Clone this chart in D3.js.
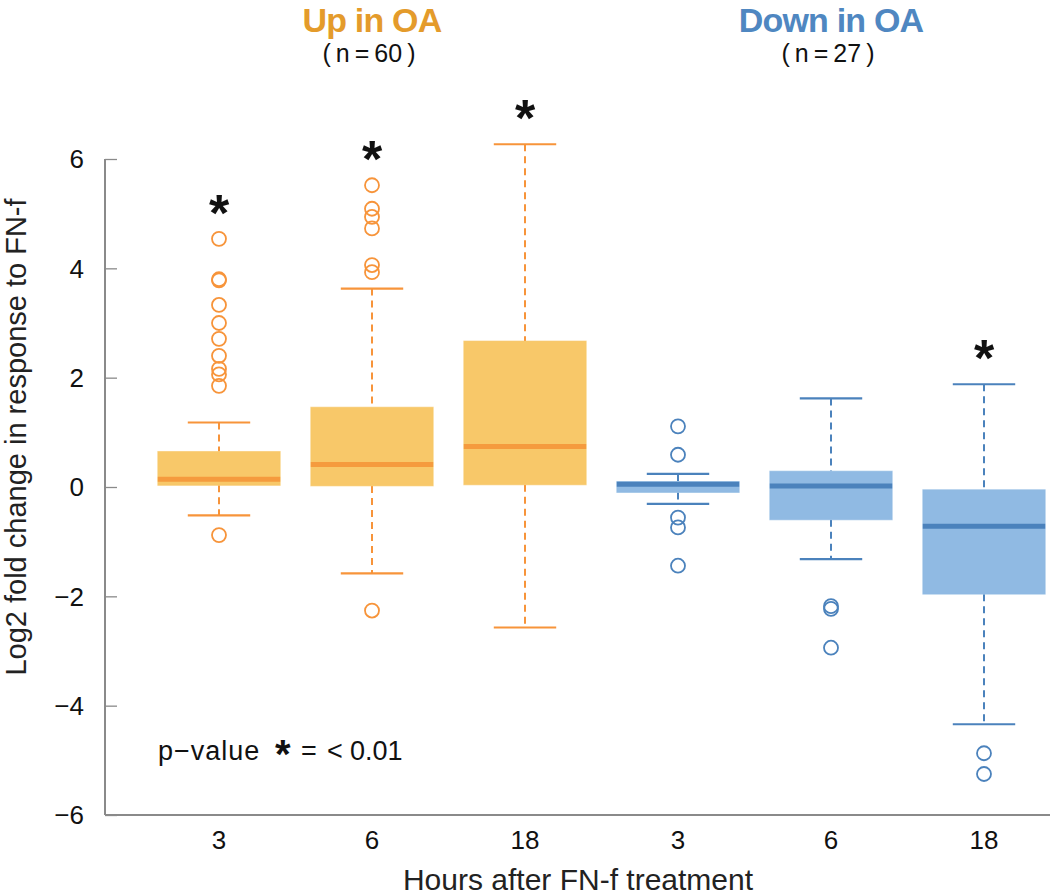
<!DOCTYPE html>
<html>
<head>
<meta charset="utf-8">
<script src="https://cdn.jsdelivr.net/npm/d3@7/dist/d3.min.js"></script>
<style>
  html, body { margin: 0; padding: 0; background: #fff; }
  svg { display: block; }
  text { font-family: "Liberation Sans", Arial, sans-serif; }
</style>
</head>
<body>
<svg id="chart" width="1050" height="896"></svg>
<script>
// ---- data ----
const groupNames = ["Up in OA", "Down in OA"];
const groupCounts = ["60", "27"];
const hours = ["3", "6", "18", "3", "6", "18"];
const boxGroup = [0, 0, 0, 1, 1, 1];
const q1 = [0.03, 0.02, 0.04, -0.10, -0.60, -1.96];
const median = [0.14, 0.41, 0.74, 0.05, 0.02, -0.72];
const q3 = [0.65, 1.46, 2.67, 0.10, 0.29, -0.05];
const whiskerLow = [-0.52, -1.58, -2.57, -0.31, -1.32, -4.34];
const whiskerHigh = [1.18, 3.63, 6.27, 0.24, 1.62, 1.88];
const outliers = [
  [4.54, 3.80, 3.78, 3.33, 3.00, 2.71, 2.40, 2.16, 2.06, 1.85, -0.88],
  [5.52, 5.09, 4.94, 4.73, 4.06, 3.93, -2.26],
  [],
  [1.11, 0.59, -0.56, -0.74, -1.44],
  [-2.18, -2.23, -2.94],
  [-4.87, -5.25]
];
const significant = [true, true, true, false, false, true];
const yTicks = [-6, -4, -2, 0, 2, 4, 6];

// ---- styles ----
const palette = [
  { title: "#E49B2B", fill: "#F8C869", median: "#F59B3E", line: "#F7943A" },
  { title: "#4F87C1", fill: "#90BAE3", median: "#4B82BC", line: "#4B82BC" }
];
const axisColor = "#8a8a8a";

const svg = d3.select("#chart");
const y = d3.scaleLinear().domain([-6, 6]).range([815, 159]);
const x = d3.scaleBand().domain(d3.range(hours.length)).range([142.5, 1060.5]).padding(0);
const boxW = x.bandwidth() * 0.8;
const capW = boxW * 0.51;
const cx = i => x(i) + x.bandwidth() / 2;

// y axis
const yAxis = d3.axisRight(y).tickValues(yTicks).tickSize(12).tickFormat("");
const gy = svg.append("g").attr("transform", "translate(105,0)").call(yAxis);
gy.select(".domain").attr("stroke", axisColor).attr("stroke-width", 2).attr("d", `M0,${y(6)}V${y(-6)}`);
gy.selectAll(".tick line").attr("stroke", axisColor).attr("stroke-width", 1.3);

svg.append("g").selectAll("text").data(yTicks).join("text")
  .attr("x", 84).attr("y", d => y(d)).attr("dy", "0.36em")
  .attr("text-anchor", "end").attr("font-size", 26).attr("fill", "#111")
  .text(d => d < 0 ? "\u2212" + Math.abs(d) : d);

// x axis line
svg.append("line").attr("x1", 105).attr("x2", 1050).attr("y1", y(-6)).attr("y2", y(-6))
  .attr("stroke", axisColor).attr("stroke-width", 2);

// x tick labels
svg.append("g").selectAll("text").data(hours).join("text")
  .attr("x", (d, i) => cx(i)).attr("y", 849)
  .attr("text-anchor", "middle").attr("font-size", 26).attr("fill", "#111")
  .text(d => d);

// axis titles
svg.append("text").attr("x", 578).attr("y", 890).attr("text-anchor", "middle")
  .attr("font-size", 30).attr("fill", "#222").text("Hours after FN-f treatment");
svg.append("text").attr("transform", `translate(26,437) rotate(-90)`)
  .attr("text-anchor", "middle").attr("font-size", 29).attr("fill", "#222")
  .text("Log2 fold change in response to FN-f");

// group titles
[1, 4].forEach((bi, gi) => {
  svg.append("text").attr("x", cx(bi)).attr("y", 32).attr("text-anchor", "middle")
    .attr("font-size", 34).attr("font-weight", "bold").attr("fill", palette[gi].title)
    .attr("letter-spacing", -0.8)
    .text(groupNames[gi]);
  svg.append("text").attr("x", cx(bi) - 3).attr("y", 62).attr("text-anchor", "middle")
    .attr("font-size", 25).attr("fill", "#111")
    .text("(\u2009n\u2009=\u2009" + groupCounts[gi] + "\u2009)");
});

// boxes
const boxes = svg.append("g").selectAll("g").data(hours).join("g");
boxes.each(function (d, i) {
  const g = d3.select(this);
  const c = palette[boxGroup[i]];
  const xc = cx(i);
  // whiskers dashed
  g.append("line").attr("x1", xc).attr("x2", xc).attr("y1", y(whiskerHigh[i])).attr("y2", y(q3[i]))
    .attr("stroke", c.line).attr("stroke-width", 2).attr("stroke-dasharray", "7,5");
  g.append("line").attr("x1", xc).attr("x2", xc).attr("y1", y(q1[i])).attr("y2", y(whiskerLow[i]))
    .attr("stroke", c.line).attr("stroke-width", 2).attr("stroke-dasharray", "7,5");
  // caps
  [whiskerHigh[i], whiskerLow[i]].forEach(v => {
    g.append("line").attr("x1", xc - capW / 2).attr("x2", xc + capW / 2).attr("y1", y(v)).attr("y2", y(v))
      .attr("stroke", c.line).attr("stroke-width", 2.2);
  });
  // box
  g.append("rect").attr("x", xc - boxW / 2).attr("width", boxW)
    .attr("y", y(q3[i])).attr("height", y(q1[i]) - y(q3[i]))
    .attr("fill", c.fill).attr("stroke", c.fill).attr("stroke-opacity", 0.6).attr("stroke-width", 1);
  // median
  g.append("line").attr("x1", xc - boxW / 2).attr("x2", xc + boxW / 2)
    .attr("y1", y(median[i])).attr("y2", y(median[i]))
    .attr("stroke", c.median).attr("stroke-width", 5);
  // outliers
  g.selectAll("circle").data(outliers[i]).join("circle")
    .attr("cx", xc).attr("cy", v => y(v)).attr("r", 7)
    .attr("fill", "none").attr("stroke", c.line).attr("stroke-width", 1.8);
  // significance
  if (significant[i]) {
    const top = d3.max([whiskerHigh[i], ...outliers[i]]);
    g.append("text").attr("x", xc).attr("y", y(top) - 8)
      .attr("text-anchor", "middle").attr("font-size", 52).attr("font-weight", "bold")
      .attr("fill", "#111").text("*");
  }
});

// p-value note
const note = svg.append("text").attr("y", 760).attr("font-size", 27).attr("fill", "#111");
note.append("tspan").attr("x", 158).attr("letter-spacing", 1).text("p\u2212value");
note.append("tspan").attr("x", 275).attr("dy", 8).attr("font-size", 40).attr("font-weight", "bold").text("*");
note.append("tspan").attr("x", 301).attr("dy", -8).text("=");
note.append("tspan").attr("x", 327).text("<");
note.append("tspan").attr("x", 350).text("0.01");
</script>
</body>
</html>
